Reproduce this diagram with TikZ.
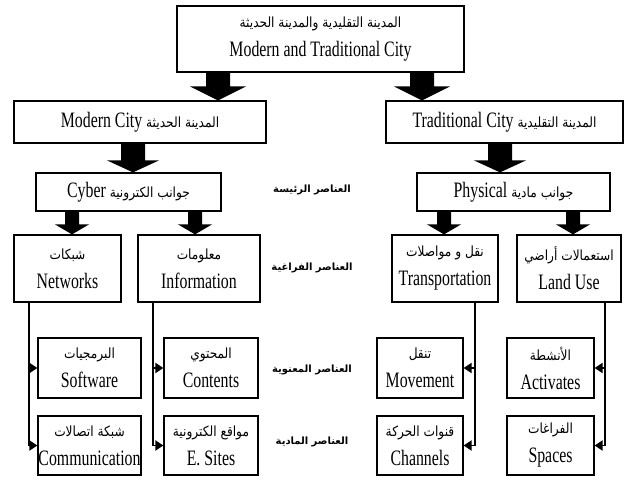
\documentclass[tikz,border=0pt]{standalone}
\usepackage{fontspec}
\setmainfont{Liberation Serif}[FakeStretch=0.72]
\newfontfamily\arfont[Script=Arabic,FakeStretch=0.87]{DejaVu Sans}
\newfontfamily\arlabelfont[Script=Arabic]{DejaVu Sans}
\TeXXeTstate=1
\usetikzlibrary{arrows.meta,calc}

% Arabic run, set right to left
\newcommand\AR[1]{{\arfont\fontsize{14}{29}\selectfont\beginR #1\endR}}

% filled block arrow between two boxes, in a given column
% #1 column coordinate, #2 upper box, #3 lower box,
% #4 shaft half width, #5 head half width, #6 head length
\newcommand\BlkArrow[6]{%
  \fill let \p1=(#1 |- #2.south), \p2=(#1 |- #3.north) in
    (\x1-#4pt,\y1) -- (\x1+#4pt,\y1) -- (\x1+#4pt,\y2+#6pt) -- (\x1+#5pt,\y2+#6pt)
    -- (\x1,\y2) -- (\x1-#5pt,\y2+#6pt) -- (\x1-#4pt,\y2+#6pt) -- cycle;}

\tikzset{
  box/.style={draw, line width=1.2pt, inner sep=0pt, align=center,
    font=\fontsize{22}{29}\selectfont},
  level/.style={font=\arlabelfont\bfseries\fontsize{10}{12}\selectfont, inner sep=0pt},
  link/.style={line width=1.8pt, -{Triangle[length=8pt,width=10pt]}},
}

\begin{document}
\begin{tikzpicture}[x=1pt,y=-1pt]
\useasboundingbox (0,0) rectangle (630,481);

% --- boxes ---
\node[box, minimum width=287, minimum height=66] (city) at (320.5,39)
  {\AR{المدينة التقليدية والمدينة الحديثة}\\Modern and Traditional City};

\node[box, minimum width=252, minimum height=42] (modern) at (140,122)
  {Modern City \AR{المدينة الحديثة}};
\node[box, minimum width=237, minimum height=42] (trad) at (504.5,122)
  {Traditional City \AR{المدينة التقليدية}};

\node[box, minimum width=185, minimum height=38] (cyber) at (128.5,192)
  {Cyber \AR{جوانب الكترونية}};
\node[box, minimum width=193, minimum height=38] (phys) at (513.5,192)
  {Physical \AR{جوانب مادية}};

\node[box, minimum width=107, minimum height=67] (net) at (67.5,268.5)
  {\AR{شبكات}\\Networks};
\node[box, minimum width=122, minimum height=67] (info) at (199,268.5)
  {\AR{معلومات}\\Information};
\node[box, minimum width=106, minimum height=67] (trans) at (445,268.5)
  {\AR{نقل و مواصلات}\\Transportation};
\node[box, minimum width=104, minimum height=67] (land) at (569,268.5)
  {\AR{استعمالات أراضي}\\Land Use};

\node[box, minimum width=103, minimum height=60] (soft) at (89.5,368)
  {\AR{البرمجيات}\\Software};
\node[box, minimum width=94, minimum height=60] (cont) at (211,368)
  {\AR{المحتوي}\\Contents};
\node[box, minimum width=86, minimum height=60] (move) at (420,368)
  {\AR{تنقل}\\Movement};
\node[box, minimum width=87, minimum height=60] (act) at (550.5,368)
  {\AR{الأنشطة}\\Activates};

\node[box, minimum width=103, minimum height=59] (comm) at (89.5,445.5)
  {\AR{شبكة اتصالات}\\Communication};
\node[box, minimum width=94, minimum height=59] (esit) at (211,445.5)
  {\AR{مواقع الكترونية}\\E. Sites};
\node[box, minimum width=86, minimum height=59] (chan) at (420,445.5)
  {\AR{قنوات الحركة}\\Channels};
\node[box, minimum width=87, minimum height=59] (spac) at (550.5,445.5)
  {\AR{الفراغات}\\Spaces};

% --- level labels ---
\node[level] (l1) at (312,190) {\beginR العناصر الرئيسة\endR};
\node[level] (l2) at (312,268) {\beginR العناصر الفراغية\endR};
\node[level] (l3) at (312,370) {\beginR العناصر المعنوية\endR};
\node[level] (l4) at (312,442) {\beginR العناصر المادية\endR};

% --- block arrows ---
\coordinate (a1) at (218,0);
\coordinate (a2) at (422,0);
\coordinate (a3) at (133,0);
\coordinate (a4) at (500,0);
\coordinate (a5) at (72,0);
\coordinate (a6) at (195,0);
\coordinate (a7) at (444,0);
\coordinate (a8) at (573,0);
\BlkArrow{a1}{city}{modern}{12}{28}{14}
\BlkArrow{a2}{city}{trad}{12}{28}{14}
\BlkArrow{a3}{modern}{cyber}{12}{26}{12}
\BlkArrow{a4}{trad}{phys}{12}{26}{12}
\BlkArrow{a5}{cyber}{net}{7}{17}{10}
\BlkArrow{a6}{cyber}{info}{7}{17}{10}
\BlkArrow{a7}{phys}{trans}{7}{17}{10}
\BlkArrow{a8}{phys}{land}{7}{17}{10}

% --- branch connectors ---
\coordinate (t1) at (29,0);
\coordinate (t2) at (153,0);
\coordinate (t3) at (475,0);
\coordinate (t4) at (605,0);
\draw[link] (t1 |- net.south) |- (soft.west);
\draw[link] (t1 |- net.south) |- (comm.west);
\draw[link] (t2 |- info.south) |- (cont.west);
\draw[link] (t2 |- info.south) |- (esit.west);
\draw[link] (t3 |- trans.south) |- (move.east);
\draw[link] (t3 |- trans.south) |- (chan.east);
\draw[link] (t4 |- land.south) |- (act.east);
\draw[link] (t4 |- land.south) |- (spac.east);
\end{tikzpicture}
\end{document}
